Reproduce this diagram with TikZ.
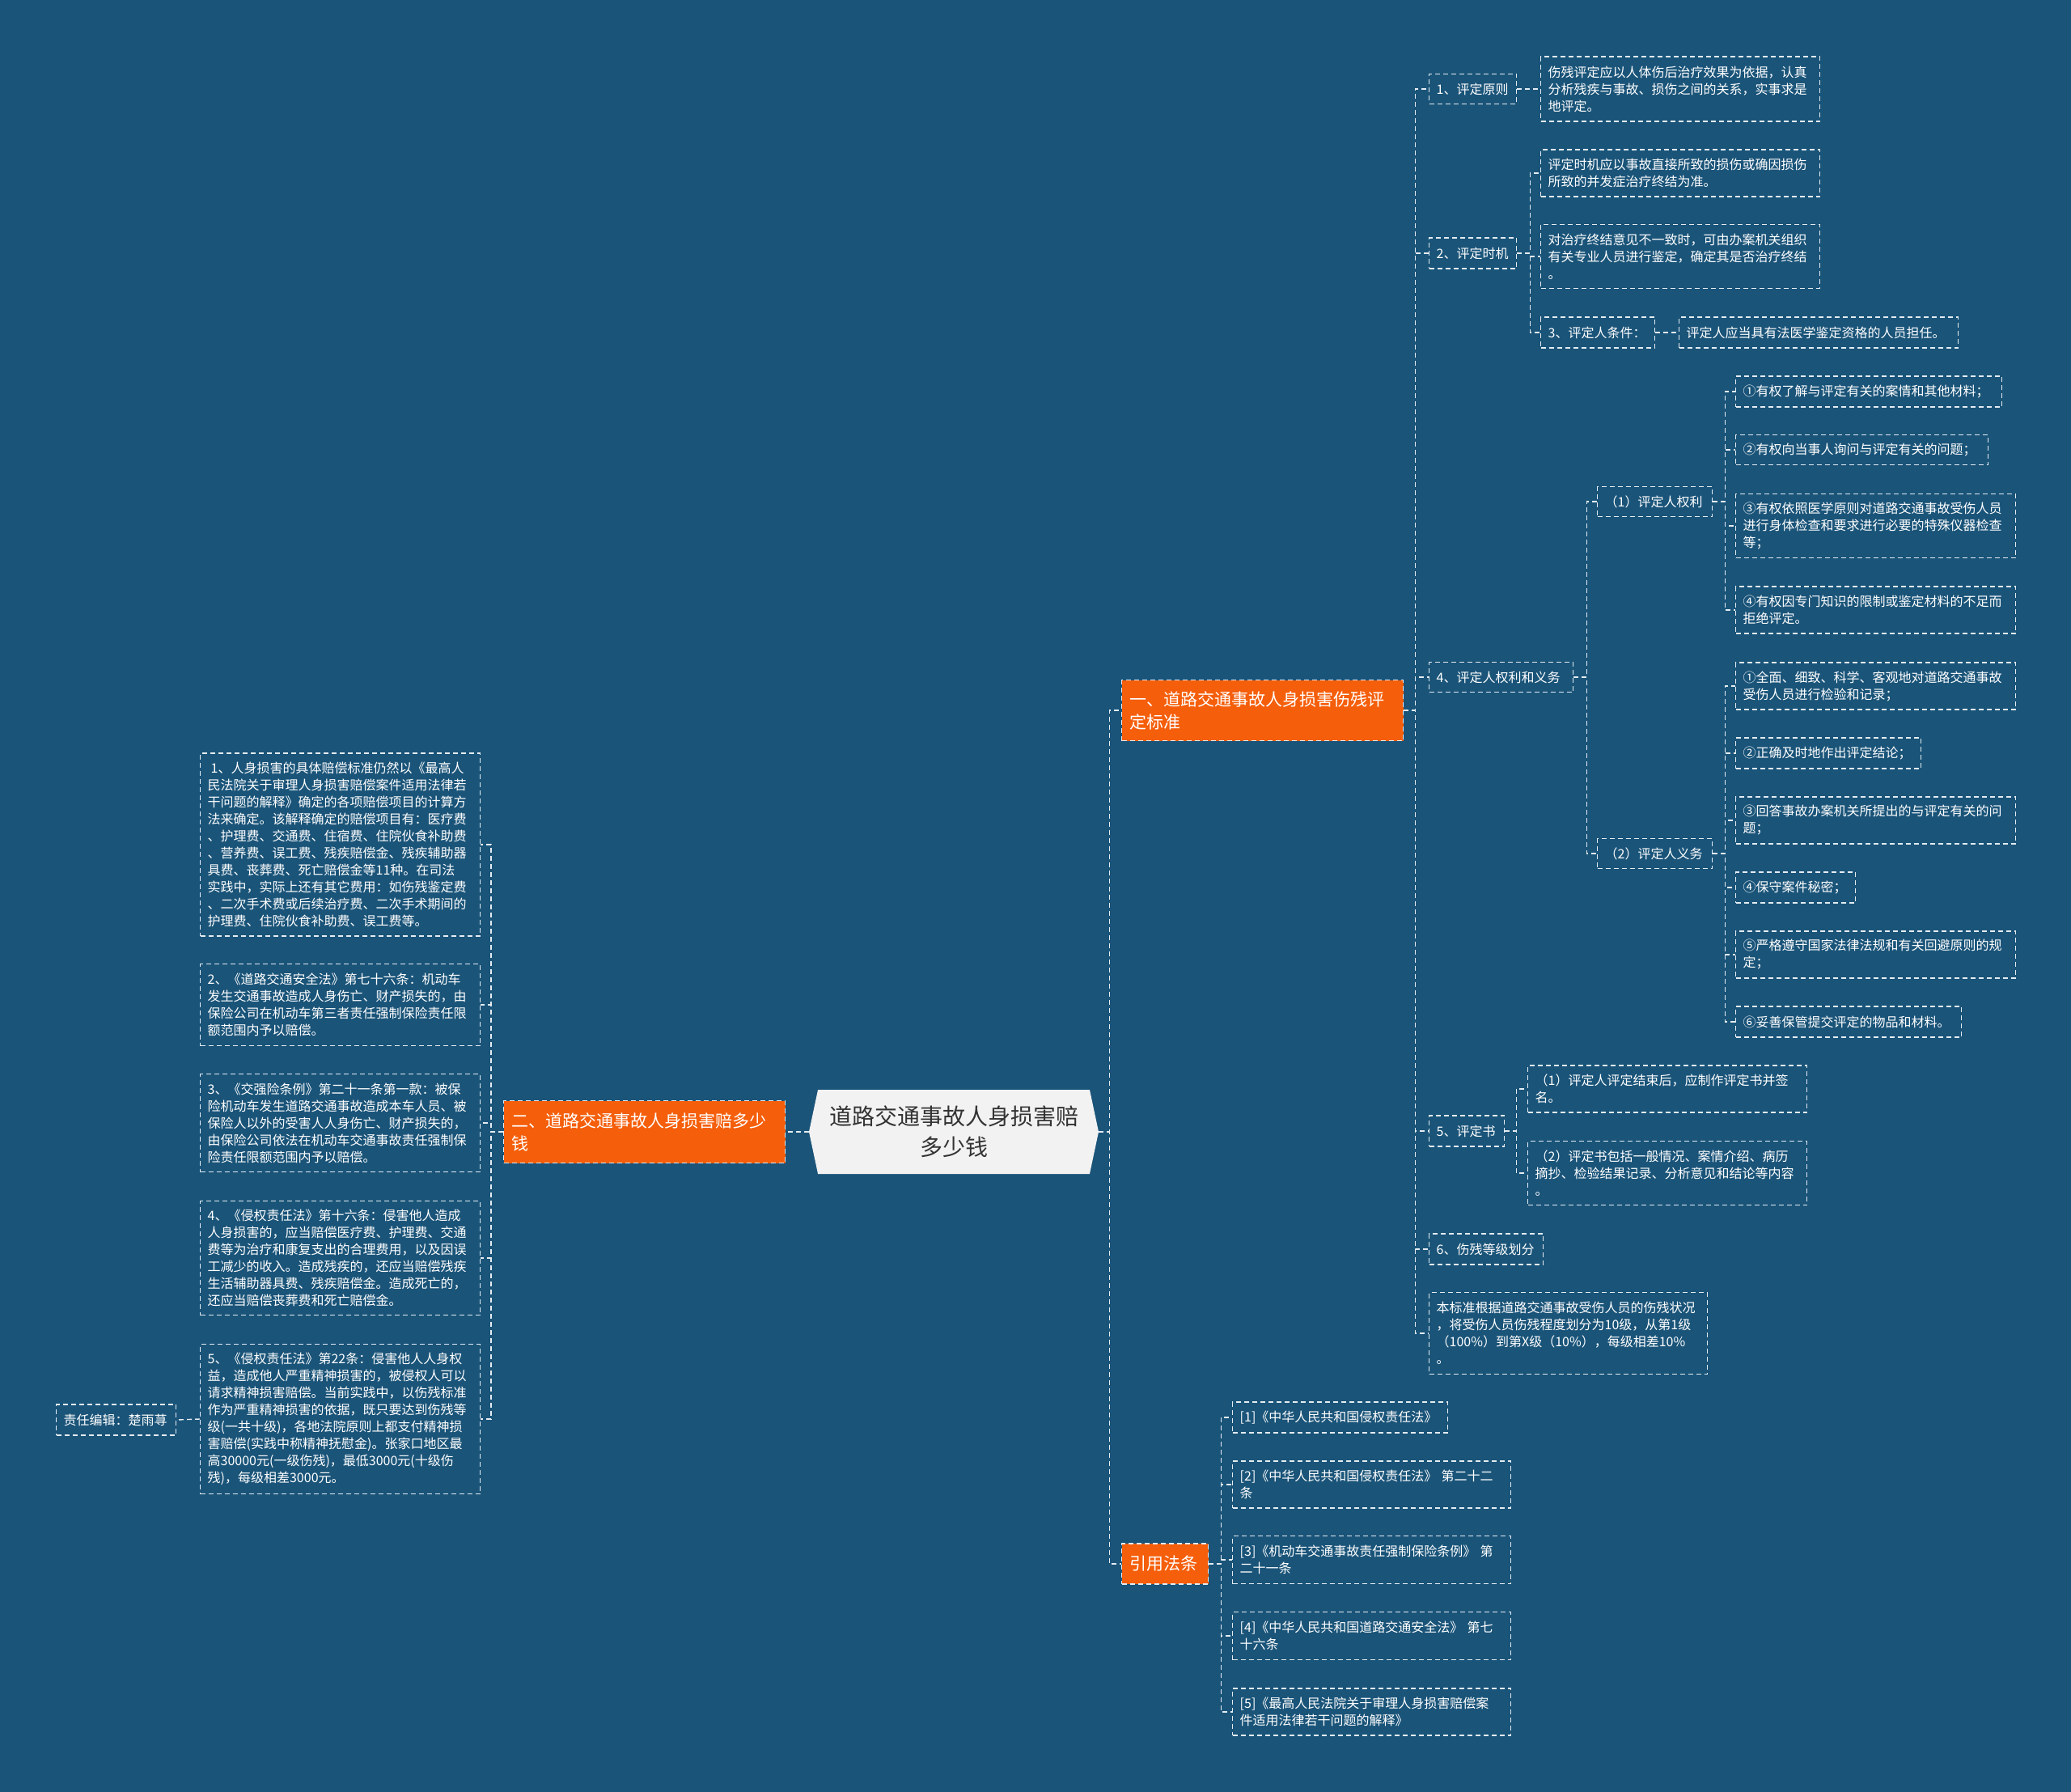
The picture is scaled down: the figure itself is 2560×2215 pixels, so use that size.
\documentclass[tikz,border=0pt]{standalone}
\usepackage{fontspec}
\setmainfont{Noto Sans CJK SC}
\usetikzlibrary{shapes.symbols}
\definecolor{mapbg}{RGB}{26,84,121}
\definecolor{maporange}{RGB}{245,94,10}
\definecolor{mapline}{RGB}{228,236,242}
\definecolor{rootfill}{RGB}{242,242,242}
\begin{document}
\begin{tikzpicture}[x=1pt,y=-1pt,
    link/.style={draw=mapline, line width=1.4pt, dash pattern=on 6pt off 4pt},
    leaf/.style={draw=mapline, line width=1.4pt, dash pattern=on 6pt off 4pt,
      text=white, anchor=west, align=left, inner xsep=9pt, inner ysep=0pt,
      font=\fontsize{16}{21}\selectfont},
    branch/.style={leaf, fill=maporange, inner xsep=10pt, font=\fontsize{21}{28}\selectfont},
    rootnode/.style={signal, signal to=east and west, signal pointer angle=156,
      fill=rootfill, text=black!80, align=center, inner sep=0pt,
      minimum width=358pt, minimum height=104pt, font=\fontsize{28}{38}\selectfont}]
    % Background
    \fill[mapbg] (0,0) rectangle (2560,2215);
    \useasboundingbox (0,0) rectangle (2560,2215);

    % Root
    \node[rootnode] (root) at (1179,1399) {道路交通事故人身损害赔\\多少钱};
    \node[branch, text width=328pt, minimum height=75pt] (b1) at (1386,878) {一、道路交通事故人身损害伤残评\\定标准};
    \node[branch, text width=328pt, minimum height=77pt] (b2) at (622,1399) {二、道路交通事故人身损害赔多少\\钱};
    \node[branch, text width=87pt, minimum height=50pt] (b3) at (1386,1933) {引用法条};

    % Branch one
    \node[leaf, text width=90pt, minimum height=37pt] (r1) at (1766,110) {1、评定原则};
    \node[leaf, text width=327pt, minimum height=80pt] (r1a) at (1904,110) {伤残评定应以人体伤后治疗效果为依据，认真\\分析残疾与事故、损伤之间的关系，实事求是\\地评定。};
    \node[leaf, text width=90pt, minimum height=38pt] (r2) at (1766,313) {2、评定时机};
    \node[leaf, text width=327pt, minimum height=58pt] (r2a) at (1904,214) {评定时机应以事故直接所致的损伤或确因损伤\\所致的并发症治疗终结为准。};
    \node[leaf, text width=327pt, minimum height=79pt] (r2b) at (1904,317) {对治疗终结意见不一致时，可由办案机关组织\\有关专业人员进行鉴定，确定其是否治疗终结\\。};
    \node[leaf, text width=123pt, minimum height=38pt] (r2c) at (1904,411) {3、评定人条件：};
    \node[leaf, text width=327pt, minimum height=38pt] (r2c1) at (2075,411) {评定人应当具有法医学鉴定资格的人员担任。};
    \node[leaf, text width=160pt, minimum height=37pt] (r4) at (1766,837) {4、评定人权利和义务};
    \node[leaf, text width=124pt, minimum height=37pt] (r4a) at (1974,620) {（1）评定人权利};
    \node[leaf, text width=311pt, minimum height=38pt] (r4a1) at (2145,484) {①有权了解与评定有关的案情和其他材料；};
    \node[leaf, text width=294pt, minimum height=37pt] (r4a2) at (2145,556) {②有权向当事人询问与评定有关的问题；};
    \node[leaf, text width=328pt, minimum height=79pt] (r4a3) at (2145,650) {③有权依照医学原则对道路交通事故受伤人员\\进行身体检查和要求进行必要的特殊仪器检查\\等；};
    \node[leaf, text width=328pt, minimum height=58pt] (r4a4) at (2145,754) {④有权因专门知识的限制或鉴定材料的不足而\\拒绝评定。};
    \node[leaf, text width=124pt, minimum height=37pt] (r4b) at (1974,1055) {（2）评定人义务};
    \node[leaf, text width=328pt, minimum height=58pt] (r4b1) at (2145,848) {①全面、细致、科学、客观地对道路交通事故\\受伤人员进行检验和记录；};
    \node[leaf, text width=211pt, minimum height=38pt] (r4b2) at (2145,931) {②正确及时地作出评定结论；};
    \node[leaf, text width=328pt, minimum height=58pt] (r4b3) at (2145,1014) {③回答事故办案机关所提出的与评定有关的问\\题；};
    \node[leaf, text width=130pt, minimum height=38pt] (r4b4) at (2145,1097) {④保守案件秘密；};
    \node[leaf, text width=328pt, minimum height=58pt] (r4b5) at (2145,1180) {⑤严格遵守国家法律法规和有关回避原则的规\\定；};
    \node[leaf, text width=261pt, minimum height=38pt] (r4b6) at (2145,1263) {⑥妥善保管提交评定的物品和材料。};
    \node[leaf, text width=75pt, minimum height=38pt] (r5) at (1766,1398) {5、评定书};
    \node[leaf, text width=327pt, minimum height=58pt] (r5a) at (1888,1346) {（1）评定人评定结束后，应制作评定书并签\\名。};
    \node[leaf, text width=327pt, minimum height=79pt] (r5b) at (1888,1450) {（2）评定书包括一般情况、案情介绍、病历\\摘抄、检验结果记录、分析意见和结论等内容\\。};
    \node[leaf, text width=123pt, minimum height=38pt] (r6) at (1766,1544) {6、伤残等级划分};
    \node[leaf, text width=326pt, minimum height=101pt] (r7) at (1766,1648) {本标准根据道路交通事故受伤人员的伤残状况\\，将受伤人员伤残程度划分为10级，从第1级\\（100\%）到第X级（10\%），每级相差10\%\\。};

    % Citations
    \node[leaf, text width=248pt, minimum height=38pt] (c1) at (1523,1752) {[1]《中华人民共和国侵权责任法》};
    \node[leaf, text width=326pt, minimum height=58pt] (c2) at (1523,1835) {[2]《中华人民共和国侵权责任法》 第二十二\\条};
    \node[leaf, text width=326pt, minimum height=59pt] (c3) at (1523,1928) {[3]《机动车交通事故责任强制保险条例》 第\\二十一条};
    \node[leaf, text width=326pt, minimum height=59pt] (c4) at (1523,2022) {[4]《中华人民共和国道路交通安全法》 第七\\十六条};
    \node[leaf, text width=326pt, minimum height=58pt] (c5) at (1523,2116) {[5]《最高人民法院关于审理人身损害赔偿案\\件适用法律若干问题的解释》};

    % Branch two
    \node[leaf, text width=328pt, minimum height=226pt] (l1) at (247,1044) {\hspace*{4pt}1、人身损害的具体赔偿标准仍然以《最高人\\民法院关于审理人身损害赔偿案件适用法律若\\干问题的解释》确定的各项赔偿项目的计算方\\法来确定。该解释确定的赔偿项目有：医疗费\\、护理费、交通费、住宿费、住院伙食补助费\\、营养费、误工费、残疾赔偿金、残疾辅助器\\具费、丧葬费、死亡赔偿金等11种。在司法\\实践中，实际上还有其它费用：如伤残鉴定费\\、二次手术费或后续治疗费、二次手术期间的\\护理费、住院伙食补助费、误工费等。};
    \node[leaf, text width=328pt, minimum height=101pt] (l2) at (247,1242) {2、《道路交通安全法》第七十六条：机动车\\发生交通事故造成人身伤亡、财产损失的，由\\保险公司在机动车第三者责任强制保险责任限\\额范围内予以赔偿。};
    \node[leaf, text width=328pt, minimum height=121pt] (l3) at (247,1388) {3、《交强险条例》第二十一条第一款：被保\\险机动车发生道路交通事故造成本车人员、被\\保险人以外的受害人人身伤亡、财产损失的，\\由保险公司依法在机动车交通事故责任强制保\\险责任限额范围内予以赔偿。};
    \node[leaf, text width=328pt, minimum height=141pt] (l4) at (247,1555) {4、《侵权责任法》第十六条：侵害他人造成\\人身损害的，应当赔偿医疗费、护理费、交通\\费等为治疗和康复支出的合理费用，以及因误\\工减少的收入。造成残疾的，还应当赔偿残疾\\生活辅助器具费、残疾赔偿金。造成死亡的，\\还应当赔偿丧葬费和死亡赔偿金。};
    \node[leaf, text width=328pt, minimum height=185pt] (l5) at (247,1754) {5、《侵权责任法》第22条：侵害他人人身权\\益，造成他人严重精神损害的，被侵权人可以\\请求精神损害赔偿。当前实践中，以伤残标准\\作为严重精神损害的依据，既只要达到伤残等\\级(一共十级)，各地法院原则上都支付精神损\\害赔偿(实践中称精神抚慰金)。张家口地区最\\高30000元(一级伤残)，最低3000元(十级伤\\残)，每级相差3000元。};
    \node[leaf, text width=130pt, minimum height=38pt] (ed) at (69,1755) {责任编辑：楚雨荨};

    % Connectors
    \draw[link] (root.west) -- (b2.east);
    \foreach \kid in {b1,b3} \draw[link] (root.east) -- ++(13,0) |- (\kid.west);
    \foreach \kid in {r1,r2,r4,r5,r6,r7} \draw[link] (b1.east) -- ++(14,0) |- (\kid.west);
    \draw[link] (r1.east) -- (r1a.west);
    \foreach \kid in {r2a,r2b,r2c} \draw[link] (r2.east) -- ++(16,0) |- (\kid.west);
    \draw[link] (r2c.east) -- (r2c1.west);
    \foreach \kid in {r4a,r4b} \draw[link] (r4.east) -- ++(16,0) |- (\kid.west);
    \foreach \kid in {r4a1,r4a2,r4a3,r4a4} \draw[link] (r4a.east) -- ++(15,0) |- (\kid.west);
    \foreach \kid in {r4b1,r4b2,r4b3,r4b4,r4b5,r4b6} \draw[link] (r4b.east) -- ++(15,0) |- (\kid.west);
    \foreach \kid in {r5a,r5b} \draw[link] (r5.east) -- ++(14,0) |- (\kid.west);
    \foreach \kid in {c1,c2,c3,c4,c5} \draw[link] (b3.east) -- ++(15,0) |- (\kid.west);
    \foreach \kid in {l1,l2,l3,l4,l5} \draw[link] (b2.west) -- ++(-15,0) |- (\kid.east);
    \draw[link] (l5.west) -- (ed.east);
\end{tikzpicture}
\end{document}
